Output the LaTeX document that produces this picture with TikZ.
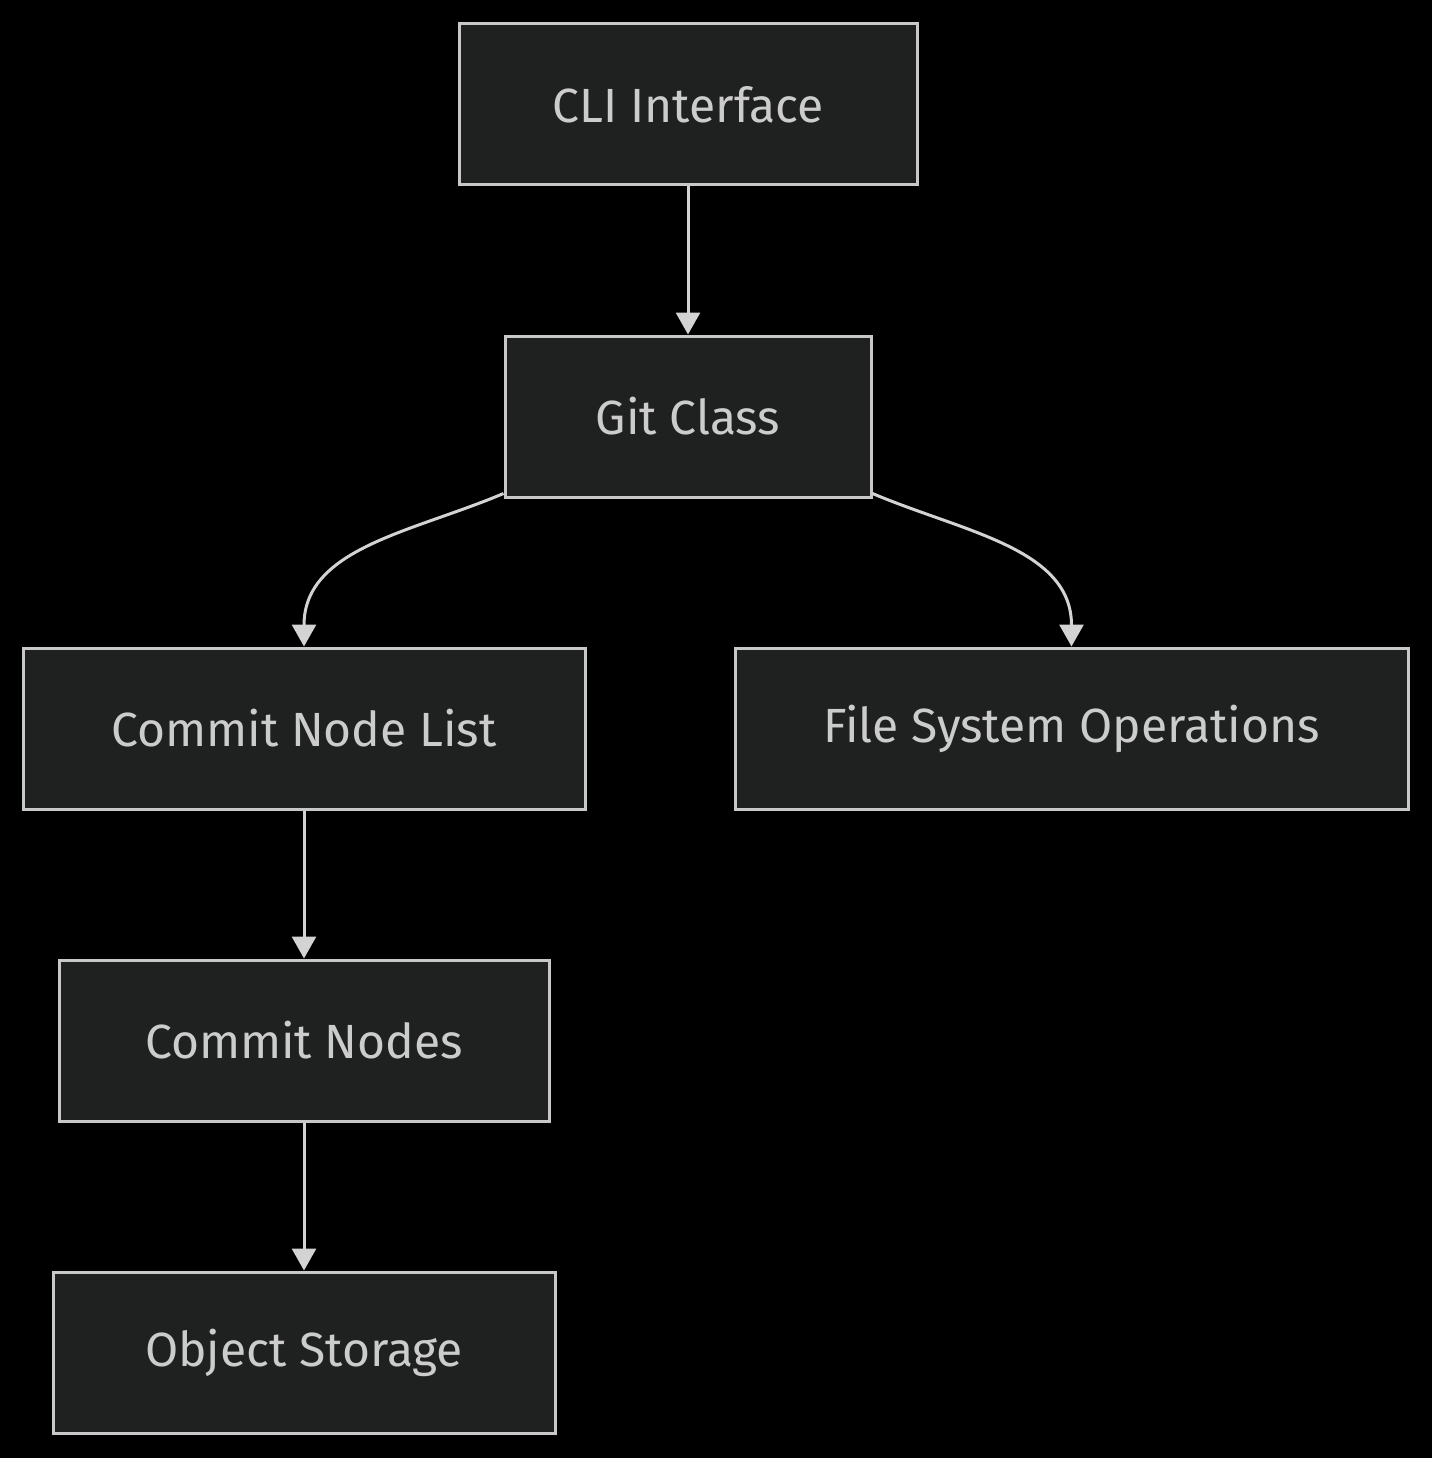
\documentclass[tikz,border=0pt]{standalone}
\usepackage{fontspec}
\setmainfont{Fira Sans}
\usetikzlibrary{arrows.meta}

\definecolor{boxfill}{HTML}{1F2020}
\definecolor{boxline}{HTML}{C8C8C8}
\definecolor{boxtext}{HTML}{CCCCCC}
\definecolor{edgeline}{HTML}{D3D3D3}

\begin{document}
\begin{tikzpicture}[x=1pt,y=-1pt,
    block/.style={draw=boxline, fill=boxfill, line width=3pt, text=boxtext,
        minimum height=161pt, inner sep=0pt, font=\fontsize{48}{56}\selectfont},
    >={Triangle[width=24pt,length=22pt]}, every edge/.style={draw=edgeline, line width=3pt}]
    \fill[black] (0,0) rectangle (1432,1458);
    \useasboundingbox (0,0) rectangle (1432,1458);

    \node[block, minimum width=458pt] (cli) at (688,104.5) {CLI Interface};
    \node[block, minimum width=366pt] (git) at (688,416.5) {Git Class};
    \node[block, minimum width=562pt] (list) at (304,728.5) {Commit Node List};
    \node[block, minimum width=673pt] (fs) at (1071.5,728.5) {File System Operations};
    \node[block, minimum width=490pt] (nodes) at (304,1040.5) {Commit Nodes};
    \node[block, minimum width=502pt] (store) at (304,1352.5) {Object Storage};

    \path[->] (cli) edge (git);
    \path[->] ([yshift=5pt]git.south west) edge[out=203, in=90] (list.north);
    \path[->] ([yshift=5pt]git.south east) edge[out=-23, in=90] (fs.north);
    \path[->] (list) edge (nodes);
    \path[->] (nodes) edge (store);
\end{tikzpicture}
\end{document}
